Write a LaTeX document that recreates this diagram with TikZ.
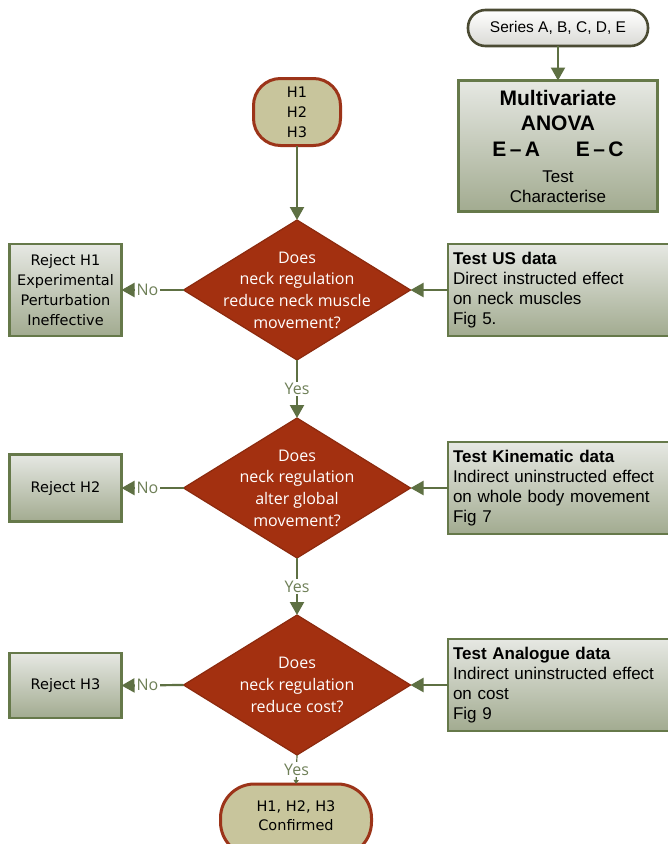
\documentclass[tikz,border=0pt]{standalone}
\usepackage{fontspec}
\setmainfont{Liberation Sans}
\newfontfamily\dvfont{DejaVu Sans}
\newfontfamily\osfont{Open Sans}
\usetikzlibrary{arrows.meta,shapes.geometric}
\definecolor{diamondfill}{HTML}{A33010}
\definecolor{diamondborder}{HTML}{8C2A0E}
\definecolor{lineg}{HTML}{5E7043}
\definecolor{boxborder}{HTML}{66794A}
\definecolor{boxtop}{HTML}{E6E8E3}
\definecolor{boxbot}{HTML}{A2AB90}
\definecolor{hfill}{HTML}{C8C59C}
\definecolor{hborder}{HTML}{9C3419}
\definecolor{labg}{HTML}{6E7F57}
\definecolor{serborder}{HTML}{4B4B33}
\definecolor{serbot}{HTML}{DADAD5}
\begin{document}
\begin{tikzpicture}[x=1pt,y=-1pt,
  greenbox/.style={draw=boxborder, line width=2.8pt, top color=boxtop, bottom color=boxbot, inner sep=0pt, outer sep=0pt},
  rejectbox/.style={greenbox, align=center, minimum width=112pt, font=\dvfont\fontsize{14.5}{20}\selectfont},
  testbox/.style={greenbox, anchor=west, minimum width=240pt, minimum height=92pt, text width=230pt, align=left, font=\fontsize{17}{20}\selectfont},
  diam/.style={diamond, draw=diamondborder, fill=diamondfill, line width=1.2pt, minimum width=227pt, minimum height=140pt, inner sep=0pt, outer sep=0pt},
  dtext/.style={text=white, align=center, font=\osfont\fontsize{16}{21.7}\selectfont},
  hpill/.style={draw=hborder, fill=hfill, line width=3pt, align=center, inner sep=0pt, outer sep=0pt, font=\dvfont\fontsize{14.5}{20}\selectfont},
  conn/.style={draw=lineg, line width=2.2pt, -{Triangle[length=13pt,width=14pt]}},
  lab/.style={fill=white, text=labg, font=\osfont\fontsize{16}{18}\selectfont, inner sep=1.5pt}
]
\path[use as bounding box, clip] (0,0) rectangle (668,844);
\fill[white] (0,0) rectangle (668,844);

% top right
\node[draw=serborder, line width=2.6pt, top color=white, bottom color=serbot, rounded corners=17.5pt,
  minimum width=180pt, minimum height=36pt, inner sep=0pt, outer sep=0pt,
  font=\fontsize{15.5}{18}\selectfont] (ser) at (558,28) {Series A, B, C, D, E};
\node[greenbox, minimum width=199pt, minimum height=131pt, text width=190pt, align=center] (anova) at (558,146)
  {{\fontsize{21}{25.5}\selectfont\bfseries Multivariate\\ANOVA\\E -- A\hspace{36pt}E -- C\par}
   {\fontsize{17}{20}\selectfont\vspace{6pt}Test\\Characterise\par}};
\draw[conn] (ser.south) -- (anova.north);

% hypotheses
\node[hpill, rounded corners=27pt, minimum width=87pt, minimum height=67pt] (h) at (297,112) {H1\\H2\\H3};

% diamonds
\node[diam] (d1) at (297,290) {};
\node[dtext] (d1t) at (297,290) {Does\\neck regulation\\reduce neck muscle\\movement?};
\node[diam] (d2) at (297,488) {};
\node[dtext] (d2t) at (297,488) {Does\\neck regulation\\alter global\\movement?};
\node[diam] (d3) at (297,685) {};
\node[dtext] (d3t) at (297,685) {Does\\neck regulation\\reduce cost?};

% reject boxes
\node[rejectbox, minimum height=92pt] (r1) at (65.5,290) {Reject H1\\Experimental\\Perturbation\\Ineffective};
\node[rejectbox, minimum height=67pt] (r2) at (65.5,488) {Reject H2};
\node[rejectbox, minimum height=65pt] (r3) at (65.5,685.5) {Reject H3};

% test boxes
\node[testbox] (t1) at (448,290) {\textbf{Test US data}\\Direct instructed effect\\on neck muscles\\Fig 5.};
\node[testbox] (t2) at (448,488) {\textbf{Test Kinematic data}\\Indirect uninstructed effect\\on whole body movement\\Fig 7};
\node[testbox] (t3) at (448,685) {\textbf{Test Analogue data}\\Indirect uninstructed effect\\on cost\\Fig 9};

% final
\node[hpill, rounded corners=34pt, minimum width=151pt, minimum height=72pt] (fin) at (296,820) {};
\node[align=center, inner sep=0pt, font=\dvfont\fontsize{14.5}{19}\selectfont] (fint) at (296,816) {H1, H2, H3\\Confirmed};

% connectors
\draw[conn] (h.south) -- (d1.north);
\draw[conn] (d1.west) -- node[lab, pos=0.58] {No} (r1.east);
\draw[conn] (d2.west) -- node[lab, pos=0.58] {No} (r2.east);
\draw[conn] (d3.west) -- node[lab, pos=0.58] {No} (r3.east);
\draw[conn] (t1.west) -- (d1.east);
\draw[conn] (t2.west) -- (d2.east);
\draw[conn] (t3.west) -- (d3.east);
\draw[conn] (d1.south) -- node[lab] {Yes} (d2.north);
\draw[conn] (d2.south) -- node[lab] {Yes} (d3.north);
\draw[draw=lineg, line width=1.2pt, -{Triangle[length=4pt,width=5pt]}] (d3.south) -- node[lab] {Yes} (fin.north);
\end{tikzpicture}
\end{document}
